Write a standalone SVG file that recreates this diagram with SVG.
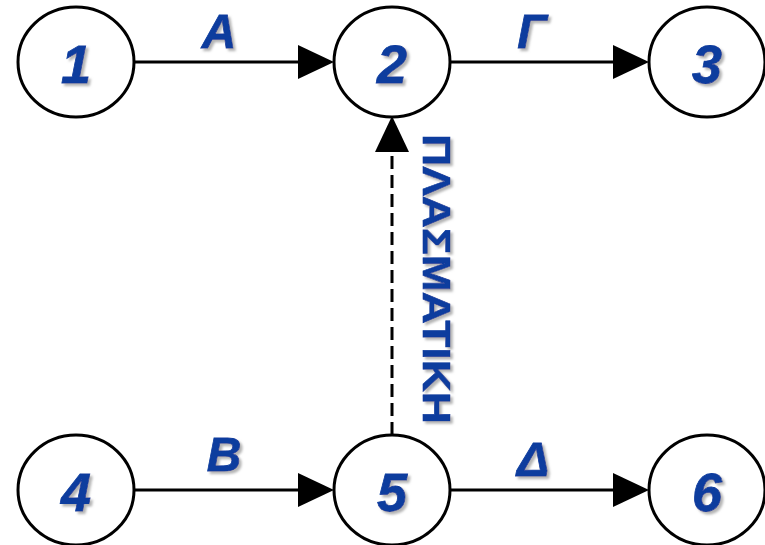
<svg xmlns="http://www.w3.org/2000/svg" width="765" height="545" viewBox="0 0 765 545">
  <defs>
    <filter id="shadow" x="-20%" y="-20%" width="150%" height="150%">
      <feDropShadow dx="2.5" dy="2.5" stdDeviation="0.8" flood-color="#b4b4b4" flood-opacity="1"/>
    </filter>
    <marker id="arrow" markerUnits="userSpaceOnUse" viewBox="0 -18 36 36" refX="0" refY="0" markerWidth="36" markerHeight="36" orient="auto">
      <path d="M0,-17 L36,0 L0,17 Z" fill="#000"/>
    </marker>
  </defs>
  <style>
    .node ellipse { fill: #fff; stroke: #000; stroke-width: 3; }
    .lbl { font-family: "Liberation Sans", Arial, sans-serif; font-weight: bold; font-style: italic; fill: #0a3c9e; stroke: #0a3c9e; stroke-width: 0.8; text-anchor: middle; }
    .num { font-size: 54px; }
    .edge { font-size: 48px; }
    .conn { stroke: #000; stroke-width: 3; fill: none; }
    .dash { stroke-dasharray: 13 6; }
    .vert { font-family: "Liberation Sans", Arial, sans-serif; font-weight: bold; fill: #0a3c9e; stroke: #0a3c9e; stroke-width: 0.6; font-size: 38px; text-anchor: middle; }
  </style>
  <rect width="765" height="545" fill="#fff"/>
  <g id="connectors">
    <line class="conn" x1="134" y1="62" x2="298" y2="62" marker-end="url(#arrow)"/>
    <line class="conn" x1="450" y1="62" x2="613" y2="62" marker-end="url(#arrow)"/>
    <line class="conn" x1="134" y1="490" x2="298" y2="490" marker-end="url(#arrow)"/>
    <line class="conn" x1="450" y1="490" x2="613" y2="490" marker-end="url(#arrow)"/>
    <line class="conn dash" x1="392" y1="435" x2="392" y2="152" marker-end="url(#arrow)"/>
  </g>
  <g id="labels" filter="url(#shadow)">
    <text class="lbl edge" x="219" y="48">A</text>
    <text class="lbl edge" x="532" y="48">Γ</text>
    <text class="lbl edge" x="224" y="471">B</text>
    <text class="lbl edge" x="533" y="476">Δ</text>
    <text class="vert" transform="translate(423,279) rotate(90)" x="0" y="0" textLength="290" lengthAdjust="spacingAndGlyphs">ΠΛΑΣΜΑΤΙΚΗ</text>
  </g>
  <g id="node1" class="node">
    <ellipse cx="76" cy="62" rx="58" ry="55"/>
    <text class="lbl num" x="76" y="83" filter="url(#shadow)">1</text>
  </g>
  <g id="node2" class="node">
    <ellipse cx="392" cy="62" rx="58" ry="55"/>
    <text class="lbl num" x="392" y="83" filter="url(#shadow)">2</text>
  </g>
  <g id="node3" class="node">
    <ellipse cx="707" cy="62" rx="58" ry="55"/>
    <text class="lbl num" x="707" y="83" filter="url(#shadow)">3</text>
  </g>
  <g id="node4" class="node">
    <ellipse cx="76" cy="490" rx="58" ry="55"/>
    <text class="lbl num" x="76" y="511" filter="url(#shadow)">4</text>
  </g>
  <g id="node5" class="node">
    <ellipse cx="392" cy="490" rx="58" ry="55"/>
    <text class="lbl num" x="392" y="511" filter="url(#shadow)">5</text>
  </g>
  <g id="node6" class="node">
    <ellipse cx="707" cy="490" rx="58" ry="55"/>
    <text class="lbl num" x="707" y="511" filter="url(#shadow)">6</text>
  </g>
</svg>
